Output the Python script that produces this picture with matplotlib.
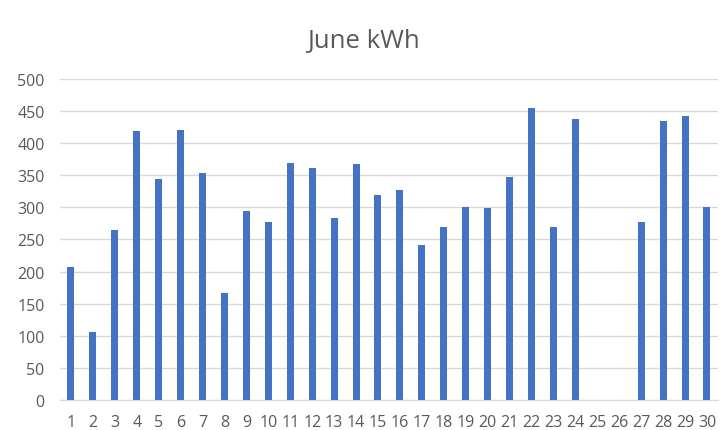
import numpy as np
import matplotlib.pyplot as plt

days = [str(d) for d in range(1, 31)]
kwh = [207, 106, 265, 419, 344, 421, 354, 166, 294, 277,
       370, 361, 284, 368, 320, 327, 241, 270, 301, 299,
       347, 455, 270, 438, 0, 0, 277, 435, 443, 301]
yticks = [0, 50, 100, 150, 200, 250, 300, 350, 400, 450, 500]

plt.rcParams['font.family'] = ['Open Sans', 'DejaVu Sans']

fig = plt.figure(figsize=(7.27, 4.31), dpi=100)
ax = fig.add_axes([0.0825, 0.0703, 0.905, 0.7434])

x = np.arange(1, len(days) + 1)
ax.bar(x, kwh, width=0.32, color='#4472C4', zorder=3)

ax.set_xlim(0.5, 30.5)
ax.set_ylim(0, 500)
ax.set_yticks(yticks)
ax.set_xticks(x)
ax.set_xticklabels(days)
ax.grid(axis='y', color='#D9D9D9', linewidth=1, zorder=0)
for s in ['top', 'right', 'left']:
    ax.spines[s].set_visible(False)
ax.spines['bottom'].set_color('#D9D9D9')
ax.tick_params(length=0, labelsize=11.5, colors='#595959')
ax.tick_params(axis='y', pad=11)
ax.tick_params(axis='x', pad=10)

fig.text(0.5, 0.903, 'June kWh', ha='center', va='center', fontsize=18.5, color='#595959')

fig.savefig('out.png', dpi=100)
